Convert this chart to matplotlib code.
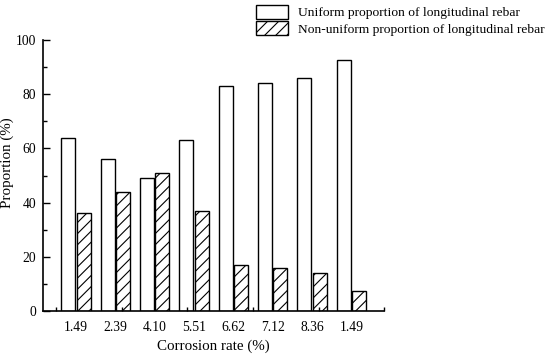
import matplotlib
matplotlib.use("Agg")
import matplotlib.pyplot as plt
import numpy as np

categories = ["1.49", "2.39", "4.10", "5.51", "6.62", "7.12", "8.36", "1.49"]
uniform = [64, 56, 49, 63, 83, 84, 86, 92.5]
non_uniform = [36, 44, 51, 37, 17, 16, 14, 7.5]
series_labels = ["Uniform proportion of longitudinal rebar",
                 "Non-uniform proportion of longitudinal rebar"]

plt.rcParams['font.family'] = ['Liberation Serif', 'DejaVu Serif']
plt.rcParams['hatch.linewidth'] = 0.8

fig = plt.figure(figsize=(5.5, 3.57), dpi=100)
ax = fig.add_axes([43/550, (357-311)/357, (384-43)/550, (311-40)/357])

x = np.arange(len(categories))
w = 0.35
off = 0.195
b1 = ax.bar(x - off, uniform, w, facecolor='white', edgecolor='black', linewidth=1.0,
            label=series_labels[0])
b2 = ax.bar(x + off, non_uniform, w, facecolor='white', edgecolor='black', linewidth=1.0,
            hatch='///', label=series_labels[1])

ax.set_xlim(-0.84, 7.83)
ax.set_ylim(0, 100)
ax.set_yticks(np.arange(0, 101, 20))
ax.set_yticks(np.arange(10, 100, 20), minor=True)
ax.set_xticks(x)
ax.set_xticklabels(categories)
ax.set_xticks([-0.51, 1.16, 2.83, 4.5, 6.17, 7.83], minor=True)
ax.tick_params(axis='x', which='major', length=0, pad=7, labelsize=9.8)
ax.tick_params(axis='x', which='minor', direction='in', length=3, width=1)
ax.tick_params(axis='y', which='major', direction='in', length=5, width=1, labelsize=9.8, pad=5)
ax.tick_params(axis='y', which='minor', direction='in', length=3, width=1)

for s in ['top', 'right']:
    ax.spines[s].set_visible(False)
for s in ['left', 'bottom']:
    ax.spines[s].set_linewidth(1.2)

ax.set_xlabel("Corrosion rate (%)", fontsize=10.8, labelpad=4)
ax.set_ylabel("Proportion (%)", fontsize=10.8)
ax.yaxis.set_label_coords(-0.086, 0.548)

leg = fig.legend(handles=[b1, b2], loc='upper left', bbox_to_anchor=(256/550, 1 - 5/357),
                 frameon=False, fontsize=9.7, borderpad=0, borderaxespad=0,
                 handlelength=2.37, handleheight=1.2, labelspacing=0.15, handletextpad=0.74)

fig.savefig("out.png", dpi=100)
